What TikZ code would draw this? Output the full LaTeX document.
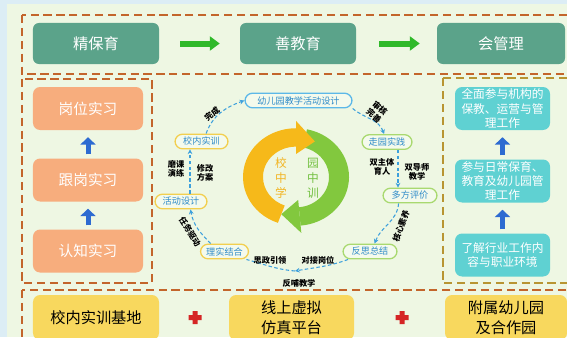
\documentclass[tikz,border=0pt]{standalone}
\usepackage{fontspec}
\setmainfont{Noto Sans CJK SC}
\usepackage{xcolor}
\usetikzlibrary{positioning, arrows.meta, calc}

\definecolor{skyback}{HTML}{DCEDF5}
\definecolor{panelback}{HTML}{EEF7E3}
\definecolor{frameorange}{HTML}{C3652B}
\definecolor{framegold}{HTML}{B89532}
\definecolor{topteal}{HTML}{5BA38A}
\definecolor{greenarrow}{HTML}{30B92A}
\definecolor{peach}{HTML}{F7AD7D}
\definecolor{arrowblue}{HTML}{2D6BD1}
\definecolor{cyanbox}{HTML}{5FD1D2}
\definecolor{yellowbox}{HTML}{F8D85E}
\definecolor{plusred}{HTML}{D52525}
\definecolor{cycfill}{HTML}{F4FAEC}
\definecolor{cyctext}{HTML}{2F8BC9}
\definecolor{cycblue}{HTML}{5CB8E8}
\definecolor{cycyellow}{HTML}{F2CF4F}
\definecolor{cycgreen}{HTML}{A9D970}
\definecolor{flowblue}{HTML}{3DA0DC}
\definecolor{ringyellow}{HTML}{F6B91A}
\definecolor{ringgreen}{HTML}{82C83E}
\definecolor{textyellow}{HTML}{F2B524}
\definecolor{textgreen}{HTML}{72C040}

\begin{document}
\begin{tikzpicture}[x=0.03cm, y=0.03cm,
    frame/.style={draw=frameorange, line width=1.6pt, dash pattern=on 7pt off 4pt},
    topbox/.style={rectangle, fill=topteal, rounded corners=5pt, minimum height=1.23cm, text=white, font=\fontsize{13}{15}\selectfont},
    leftbox/.style={rectangle, fill=peach, rounded corners=6pt, minimum width=3.3cm, minimum height=1.29cm, text=white, font=\fontsize{12.5}{15}\selectfont},
    rightbox/.style={rectangle, fill=cyanbox, rounded corners=6pt, minimum width=2.85cm, minimum height=1.29cm, inner sep=1pt, align=center, text=white, font=\fontsize{10}{12}\selectfont},
    basebox/.style={rectangle, fill=yellowbox, rounded corners=6pt, minimum height=1.35cm, align=center, text=black, font=\fontsize{13}{17}\selectfont},
    cyc/.style={rectangle, rounded corners=6.5pt, line width=1.1pt, fill=cycfill, minimum height=0.44cm, inner sep=0pt, text=cyctext, font=\fontsize{7.8}{9}\selectfont},
    note/.style={align=center, inner sep=0pt, text=black, font=\fontsize{7}{8}\selectfont\bfseries},
    flow/.style={draw=flowblue, line width=0.9pt, dash pattern=on 3pt off 2pt, -{Stealth[length=4pt, width=4pt]}},
    flowline/.style={draw=flowblue, line width=0.9pt, dash pattern=on 3pt off 2pt},
    gostep/.style={draw=greenarrow, line width=0.18cm, -{Triangle[length=0.3cm, width=0.42cm]}},
    upstep/.style={draw=arrowblue, line width=0.15cm, -{Triangle[length=0.22cm, width=0.45cm]}, shorten <=0.12cm, shorten >=0.21cm}]

    % --- Background ---
    \useasboundingbox (0,0) rectangle (567,-337);
    \fill[skyback] (0,0) rectangle (567,-337);
    \fill[panelback] (7,-4) rectangle (567,-337);

    % --- Frames ---
    \draw[frame] (22,-15) rectangle (590,-74);
    \draw[frame] (22,-79) rectangle (152,-283);
    \draw[frame, draw=framegold] (443,-78) rectangle (590,-283);
    \draw[frame] (22,-290) rectangle (590,-355);

    % --- Top row ---
    \node[topbox, minimum width=3.78cm] (care) at (96,-43.5) {精保育};
    \node[topbox, minimum width=3.48cm] (teach) at (298,-43.5) {善教育};
    \node[topbox, minimum width=3.84cm] (manage) at (501,-43.5) {会管理};
    \draw[gostep, shorten <=0.63cm, shorten >=0.6cm] (care) -- (teach);
    \draw[gostep, shorten <=0.69cm, shorten >=0.51cm] (teach) -- (manage);

    % --- Left column ---
    \node[leftbox] (post) at (88,-108.5) {岗位实习};
    \node[leftbox] (follow) at (88,-180) {跟岗实习};
    \node[leftbox] (aware) at (88,-251) {认知实习};
    \draw[upstep] (aware) -- (follow);
    \draw[upstep] (follow) -- (post);

    % --- Right column ---
    \node[rightbox] (full) at (502.5,-108.5) {全面参与机构的\\保教、运营与管\\理工作};
    \node[rightbox] (daily) at (502.5,-181) {参与日常保育、\\教育及幼儿园管\\理工作};
    \node[rightbox] (know) at (502.5,-255) {了解行业工作内\\容与职业环境};
    \draw[upstep] (know) -- (daily);
    \draw[upstep] (daily) -- (full);

    % --- Ring ---
    \begin{scope}[shift={(296,-177)}, yscale=0.92]
        \fill[ringyellow] (250:53) arc[start angle=250, end angle=90, radius=53] -- (90:33) arc[start angle=90, end angle=250, radius=33] -- cycle;
        \fill[ringgreen] (78:53) arc[start angle=78, end angle=-85, radius=53] -- (-85:33) arc[start angle=-85, end angle=78, radius=33] -- cycle;
        \fill[ringyellow] (90:61) -- (90:25) -- (64:43) -- cycle;
        \fill[ringgreen] (-85:61) -- (-85:25) -- (-110:43) -- cycle;
    \end{scope}
    \node[align=center, text=textyellow, font=\fontsize{10}{12.75}\selectfont] (school) at (281,-178) {校\\中\\学};
    \node[align=center, text=textgreen, font=\fontsize{10}{12.75}\selectfont] (garden) at (313,-178) {园\\中\\训};

    % --- Cycle nodes ---
    \node[cyc, draw=cycblue, minimum width=3.21cm] (plan) at (298.5,-100.5) {幼儿园教学活动设计};
    \node[cyc, draw=cycgreen, minimum width=1.5cm] (walk) at (387,-142) {走园实践};
    \node[cyc, draw=cycgreen, minimum width=1.62cm] (eval) at (410,-195.5) {多方评价};
    \node[cyc, draw=cycgreen, minimum width=1.62cm] (reflect) at (370,-251.5) {反思总结};
    \node[cyc, draw=cycyellow, minimum width=1.44cm] (combine) at (224.5,-251.5) {理实结合};
    \node[cyc, draw=cycyellow, minimum width=1.56cm] (design) at (181,-201.5) {活动设计};
    \node[cyc, draw=cycyellow, minimum width=1.59cm] (train) at (201.5,-141.5) {校内实训};
    \coordinate (turn) at (295,-271);

    % --- Cycle links ---
    \draw[flow] (train.60) to[out=70, in=200] (plan.west);
    \draw[flow] (plan.south east) to[out=-40, in=110] (walk.110);
    \draw[flow] ([xshift=0.33cm]walk.south) -- ([xshift=0.33cm]walk.south |- eval.north);
    \draw[flow] (eval.-145) to[out=-95, in=70] (reflect.60);
    \draw[flow] (reflect.-160) to[out=200, in=10] (turn);
    \draw[flowline] (turn) to[out=175, in=-15] (combine.-20);
    \draw[flow] (combine.150) to[out=135, in=-80] (design.-40);
    \draw[flow] ([xshift=0.27cm]design.north) -- ([xshift=0.27cm]design.north |- train.south);

    % --- Cycle labels ---
    \node[note, rotate=40] (l_done) at (212,-114) {完成};
    \node[note, rotate=-40] (l_check) at (377,-112) {审核\\完善};
    \node[note] (l_dual) at (382,-167) {双主体\\育人};
    \node[note] (l_mentor) at (417,-172) {双导师\\教学};
    \node[note, rotate=70] (l_core) at (401,-226) {核心素养};
    \node[note] (l_dock) at (318,-260) {对接岗位};
    \node[note] (l_ideo) at (270,-260) {思政引领};
    \node[note] (l_feed) at (299,-283) {反哺教学};
    \node[note, rotate=-58] (l_task) at (190,-232) {任务驱动};
    \node[note] (l_polish) at (176,-169) {磨课\\演练};
    \node[note] (l_revise) at (205,-173) {修改\\方案};

    % --- Bottom row ---
    \node[basebox, minimum width=3.78cm] (campus) at (96,-317.5) {校内实训基地};
    \node[basebox, minimum width=3.75cm] (online) at (291.5,-317.5) {线上虚拟\\仿真平台};
    \node[basebox, minimum width=3.66cm] (kinder) at (506,-317.5) {附属幼儿园\\及合作园};
    \foreach \px in {195,402}
        \fill[plusred] (\px-6.5,-317.5) ++(0,2.5) rectangle ++(13,-5)
                       (\px-2.5,-311) rectangle ++(5,-13);

\end{tikzpicture}
\end{document}
